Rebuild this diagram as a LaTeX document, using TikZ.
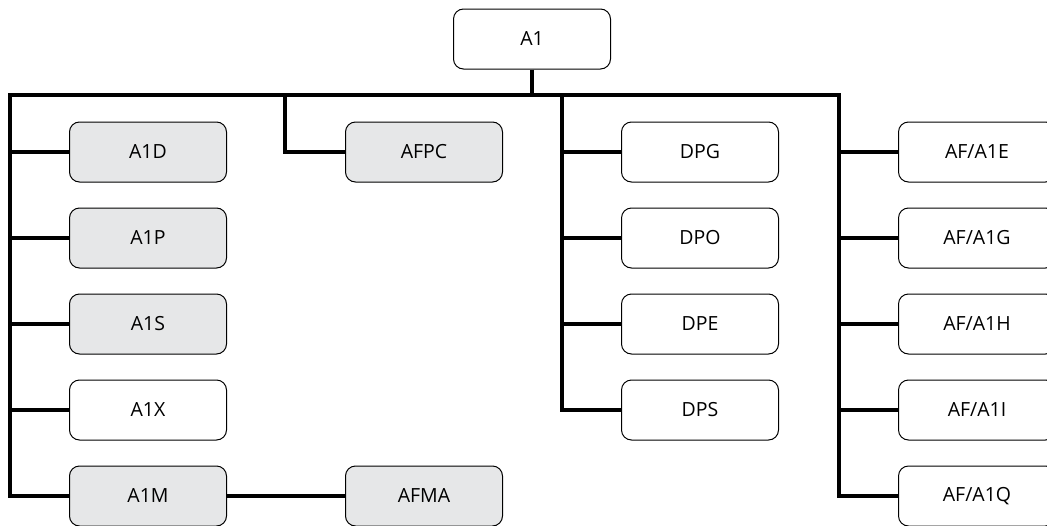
\documentclass[tikz,border=0pt]{standalone}
\usepackage{fontspec}
\setmainfont{Open Sans}
\definecolor{unitgray}{HTML}{E6E7E8}
\begin{document}
\begin{tikzpicture}[x=1pt,y=-1pt,
    unit/.style={draw, rounded corners=10pt, line width=1pt,
      minimum width=157pt, minimum height=60pt, inner sep=0pt,
      font=\fontsize{19.5}{22}\selectfont},
    shaded/.style={unit, fill=unitgray},
    trunk/.style={line width=3.5pt, line join=miter}]
  \useasboundingbox (0,0) rectangle (1047,525);
  \node[unit] (A1) at (532,39) {A1};
  % left column
  \node[shaded] (A1D) at (148,152) {A1D};
  \node[shaded] (A1P) at (148,238) {A1P};
  \node[shaded] (A1S) at (148,324) {A1S};
  \node[unit] (A1X) at (148,410) {A1X};
  \node[shaded] (A1M) at (148,496) {A1M};
  \node[shaded] (AFPC) at (424,152) {AFPC};
  \node[shaded] (AFMA) at (424,496) {AFMA};
  % DP column
  \node[unit] (DPG) at (700,152) {DPG};
  \node[unit] (DPO) at (700,238) {DPO};
  \node[unit] (DPE) at (700,324) {DPE};
  \node[unit] (DPS) at (700,410) {DPS};
  % AF column
  \node[unit] (AFE) at (977,152) {AF/A1E};
  \node[unit] (AFG) at (977,238) {AF/A1G};
  \node[unit] (AFH) at (977,324) {AF/A1H};
  \node[unit] (AFI) at (977,410) {AF/A1I};
  \node[unit] (AFQ) at (977,496) {AF/A1Q};
  \coordinate (barL) at (10,95);
  \coordinate (barR) at (839,95);
  \coordinate (pcT) at (285,95);
  \coordinate (dpT) at (562,95);
  \begin{scope}[trunk]
    \draw (A1M.west) -| (barL) -- (barR) |- (AFQ.west);
    \draw (A1.south) -- (A1.south |- barL);
    \draw (A1D.west) -- (A1D.west -| barL);
    \draw (A1P.west) -- (A1P.west -| barL);
    \draw (A1S.west) -- (A1S.west -| barL);
    \draw (A1X.west) -- (A1X.west -| barL);
    \draw (A1M) -- (AFMA);
    \draw (pcT) |- (AFPC.west);
    \draw (dpT) |- (DPS.west);
    \draw (DPG.west) -- (DPG.west -| dpT);
    \draw (DPO.west) -- (DPO.west -| dpT);
    \draw (DPE.west) -- (DPE.west -| dpT);
    \draw (AFE.west) -- (AFE.west -| barR);
    \draw (AFG.west) -- (AFG.west -| barR);
    \draw (AFH.west) -- (AFH.west -| barR);
    \draw (AFI.west) -- (AFI.west -| barR);
  \end{scope}
\end{tikzpicture}
\end{document}
